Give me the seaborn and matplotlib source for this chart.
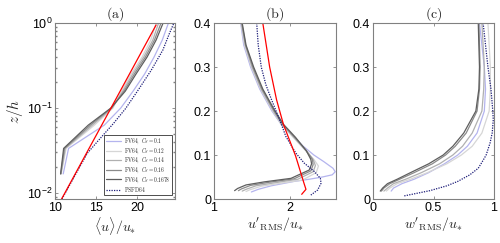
import matplotlib
matplotlib.use("Agg")
import matplotlib.pyplot as plt
import numpy as np
import pandas as pd
import seaborn as sns
from matplotlib.ticker import FixedLocator, LogLocator

# ---------------- data ----------------
labels = [r"$\mathrm{FV64},\ C_S = 0.1$", r"$\mathrm{FV64},\ C_S = 0.12$",
          r"$\mathrm{FV64},\ C_S = 0.14$", r"$\mathrm{FV64},\ C_S = 0.16$",
          r"$\mathrm{FV64},\ C_S = 0.1678$", r"$\mathrm{PSFD64}$"]
colors = ["#b4b4ee", "#d6d6d6", "#b0b0b0", "#8a8a8a", "#5e5e5e", "#1c1c78"]

# panel (a): mean velocity, z/h (log)
za = [0.0168, 0.0335, 0.063, 0.1, 0.158, 0.251, 0.398, 0.631, 1.0]
ua_010 = [11.0, 11.65, 16.0, 18.0, 19.5, 20.9, 22.05, 23.05, 23.8]
ua_012 = [10.75, 11.35, 14.8, 17.05, 18.1, 19.25, 20.6, 21.65, 22.3]
ua_014 = [10.72, 11.25, 14.55, 16.95, 18.25, 19.45, 20.8, 21.9, 22.6]
ua_016 = [10.7, 11.15, 14.3, 16.85, 18.4, 19.65, 21.0, 22.1, 22.9]
ua_01678 = [10.68, 11.05, 14.05, 16.8, 18.55, 19.85, 21.2, 22.3, 23.15]
za_ps = [0.0085, 0.0293, 0.042, 0.066, 0.099, 0.163, 0.28, 0.481, 0.755, 0.99]
ua_ps = [10.84, 13.92, 15.32, 17.12, 18.6, 20.12, 21.72, 23.12, 23.92, 24.44]
za_red = [0.0085, 0.95]
ua_red = [10.8, 22.3]

# panel (b): u'_RMS
zb_010 = [0.40, 0.35, 0.30, 0.25, 0.20, 0.17, 0.14, 0.12, 0.10, 0.085, 0.07, 0.062,
          0.055, 0.05, 0.045, 0.04, 0.03, 0.022, 0.016]
ub_010 = [1.35, 1.39, 1.48, 1.60, 1.76, 1.88, 2.05, 2.17, 2.31, 2.44, 2.56, 2.59,
          2.55, 2.42, 2.25, 2.05, 1.75, 1.58, 1.49]
zb_012 = [0.40, 0.35, 0.30, 0.25, 0.20, 0.17, 0.14, 0.11, 0.09, 0.075, 0.06, 0.043,
          0.036, 0.029, 0.021, 0.017]
ub_012 = [1.355, 1.40, 1.49, 1.61, 1.77, 1.88, 2.04, 2.20, 2.31, 2.37, 2.34, 2.16,
          1.88, 1.62, 1.47, 1.42]
zb_014 = [0.40, 0.35, 0.30, 0.25, 0.20, 0.17, 0.14, 0.11, 0.09, 0.076, 0.062, 0.045,
          0.037, 0.03, 0.022, 0.018]
ub_014 = [1.36, 1.41, 1.50, 1.62, 1.78, 1.89, 2.05, 2.21, 2.30, 2.33, 2.30, 2.10,
          1.80, 1.55, 1.42, 1.37]
zb_016 = [0.40, 0.35, 0.30, 0.25, 0.20, 0.17, 0.14, 0.11, 0.09, 0.078, 0.064, 0.046,
          0.038, 0.031, 0.023, 0.019]
ub_016 = [1.365, 1.415, 1.51, 1.63, 1.79, 1.90, 2.06, 2.21, 2.29, 2.30, 2.27, 2.05,
          1.72, 1.48, 1.36, 1.32]
zb_01678 = [0.40, 0.35, 0.30, 0.25, 0.20, 0.17, 0.14, 0.11, 0.09, 0.08, 0.066, 0.047,
            0.039, 0.032, 0.024, 0.019]
ub_01678 = [1.37, 1.42, 1.52, 1.64, 1.80, 1.91, 2.07, 2.21, 2.27, 2.28, 2.25, 2.01,
            1.66, 1.42, 1.31, 1.27]
zb_ps = [0.40, 0.35, 0.30, 0.26, 0.226, 0.173, 0.142, 0.104, 0.0815, 0.0625, 0.047,
         0.036, 0.0206, 0.009]
ub_ps = [1.56, 1.58, 1.62, 1.68, 1.754, 1.877, 1.943, 2.075, 2.184, 2.316, 2.395,
         2.404, 2.36, 2.27]
zb_red = [0.40, 0.30, 0.226, 0.17, 0.098, 0.036, 0.022, 0.0107]
ub_red = [1.64, 1.73, 1.82, 1.91, 2.07, 2.18, 2.206, 2.15]

# panel (c): w'_RMS
zc = [0.40, 0.35, 0.30, 0.25, 0.20, 0.15, 0.12, 0.10, 0.08, 0.06, 0.045, 0.035,
      0.025, 0.018]
wc_010 = [0.88, 0.90, 0.92, 0.93, 0.92, 0.86, 0.78, 0.70, 0.59, 0.46, 0.34, 0.24,
          0.17, 0.15]
wc_012 = [0.95, 0.96, 0.97, 0.97, 0.96, 0.90, 0.82, 0.73, 0.61, 0.45, 0.31, 0.20,
          0.14, 0.11]
wc_014 = [0.90, 0.91, 0.92, 0.915, 0.90, 0.82, 0.74, 0.66, 0.55, 0.40, 0.27, 0.17,
          0.12, 0.09]
wc_016 = [0.875, 0.88, 0.885, 0.88, 0.86, 0.77, 0.68, 0.60, 0.49, 0.34, 0.22, 0.14,
          0.09, 0.07]
wc_01678 = [0.87, 0.875, 0.88, 0.875, 0.85, 0.75, 0.66, 0.58, 0.46, 0.31, 0.20, 0.12,
            0.08, 0.06]
zc_ps = [0.40, 0.35, 0.30, 0.25, 0.20, 0.18, 0.15, 0.127, 0.10, 0.089, 0.07, 0.055,
         0.04, 0.03, 0.019, 0.007]
wc_ps = [0.91, 0.93, 0.95, 0.975, 0.99, 0.994, 0.985, 0.967, 0.935, 0.912, 0.87,
         0.80, 0.70, 0.61, 0.47, 0.256]

# ---------------- style ----------------
sns.set_theme(style="ticks")
plt.rcParams.update({
    "font.family": ["Liberation Sans", "DejaVu Sans"],
    "mathtext.fontset": "cm",
    "axes.edgecolor": "0.5",
    "axes.linewidth": 0.8,
    "xtick.color": "0.5",
    "ytick.color": "0.5",
    "xtick.labelcolor": "black",
    "ytick.labelcolor": "black",
    "xtick.direction": "in",
    "ytick.direction": "in",
    "xtick.top": True,
    "ytick.right": True,
    "xtick.major.size": 2.5,
    "ytick.major.size": 2.5,
    "xtick.minor.size": 1.5,
    "ytick.minor.size": 1.5,
    "xtick.major.width": 0.6,
    "ytick.major.width": 0.6,
    "xtick.labelsize": 9,
    "ytick.labelsize": 9,
})

fig = plt.figure(figsize=(5.0, 2.43), dpi=100)
ax_a = fig.add_axes([0.110, 0.181, 0.240, 0.724])
ax_b = fig.add_axes([0.428, 0.181, 0.244, 0.724])
ax_c = fig.add_axes([0.746, 0.181, 0.242, 0.724])

lw = 0.9


def draw(ax, x, y, color, label, ls="-"):
    df = pd.DataFrame({"x": x, "y": y})
    sns.lineplot(data=df, x="x", y="y", ax=ax, color=color, label=label,
                 sort=False, estimator=None, linewidth=lw, linestyle=ls)


# (a)
a_series = [ua_010, ua_012, ua_014, ua_016, ua_01678]
for u, c, lab in zip(a_series, colors[:5], labels[:5]):
    draw(ax_a, u, za, c, lab)
draw(ax_a, ua_ps, za_ps, colors[5], labels[5], ls=(0, (1, 1)))
draw(ax_a, ua_red, za_red, "red", "_nolegend_")
ax_a.set_yscale("log")
ax_a.set_xlim(10, 24.6)
ax_a.set_ylim(0.0085, 1.0)
ax_a.xaxis.set_major_locator(FixedLocator([10, 15, 20]))
ax_a.yaxis.set_major_locator(FixedLocator([0.01, 0.1, 1.0]))
ax_a.yaxis.set_minor_locator(LogLocator(base=10, subs=np.arange(2, 10)))
ax_a.set_xlabel(r"$\langle u\rangle/u_{*}$", fontsize=10, labelpad=1)
ax_a.set_ylabel(r"$z/h$", fontsize=11, labelpad=1)
leg = ax_a.legend(loc="lower right", bbox_to_anchor=(0.985, 0.015), fontsize=3.9,
                  frameon=True, fancybox=False, edgecolor="0.3", framealpha=1,
                  handlelength=2.9, handletextpad=0.5, borderpad=0.3,
                  labelspacing=0.0, borderaxespad=0.2)
leg.get_frame().set_linewidth(0.7)

# (b)
b_series = [(ub_010, zb_010), (ub_012, zb_012), (ub_014, zb_014),
            (ub_016, zb_016), (ub_01678, zb_01678)]
for (u, z), c in zip(b_series, colors[:5]):
    draw(ax_b, u, z, c, "_nolegend_")
draw(ax_b, ub_ps, zb_ps, colors[5], "_nolegend_", ls=(0, (1, 1)))
draw(ax_b, ub_red, zb_red, "red", "_nolegend_")
ax_b.set_xlim(1, 2.6)
ax_b.set_ylim(0, 0.4)
ax_b.xaxis.set_major_locator(FixedLocator([1, 2]))
ax_b.yaxis.set_major_locator(FixedLocator([0, 0.1, 0.2, 0.3, 0.4]))
ax_b.set_xlabel(r"$u'_{\mathrm{RMS}}/u_{*}$", fontsize=10, labelpad=1)
ax_b.set_ylabel("")

# (c)
c_series = [wc_010, wc_012, wc_014, wc_016, wc_01678]
for w, c in zip(c_series, colors[:5]):
    draw(ax_c, w, zc, c, "_nolegend_")
draw(ax_c, wc_ps, zc_ps, colors[5], "_nolegend_", ls=(0, (1, 1)))
ax_c.set_xlim(0, 1)
ax_c.set_ylim(0, 0.4)
ax_c.xaxis.set_major_locator(FixedLocator([0, 0.5, 1]))
ax_c.yaxis.set_major_locator(FixedLocator([0, 0.1, 0.2, 0.3, 0.4]))
ax_c.set_xticklabels(["0", "0.5", "1"])
ax_c.set_xlabel(r"$w'_{\mathrm{RMS}}/u_{*}$", fontsize=10, labelpad=1)
ax_c.set_ylabel("")

for ax in (ax_b, ax_c):
    ax.set_yticklabels(["0", "0.1", "0.2", "0.3", "0.4"])
ax_b.set_xticklabels(["1", "2"])

for ax, t in zip((ax_a, ax_b, ax_c), ("(a)", "(b)", "(c)")):
    ax.set_title(r"$\mathrm{" + t + "}$", fontsize=10, pad=3)
    for s in ax.spines.values():
        s.set_visible(True)
    ax.tick_params(which="both", top=True, right=True)
    ax.tick_params(axis="both", pad=2)

fig.savefig("out.png", dpi=100)
